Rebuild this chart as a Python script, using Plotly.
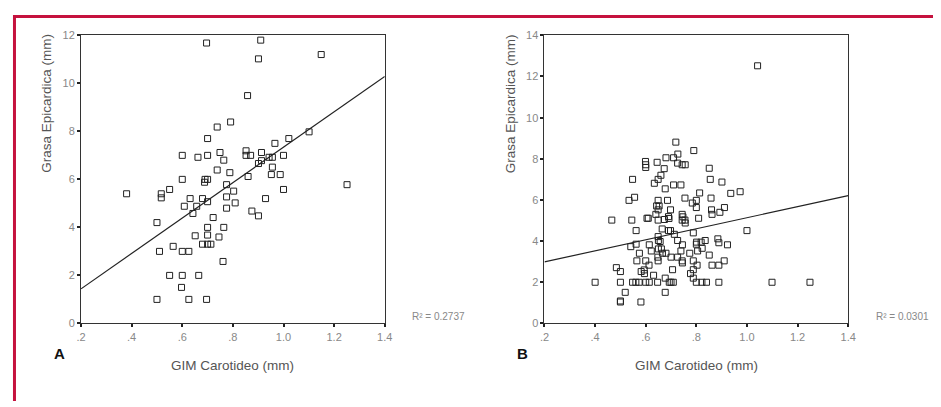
import plotly.graph_objects as go

# ---------------- data ----------------
# Panel A
a_x = [0.38, 0.50, 0.50, 0.51, 0.517, 0.517, 0.55, 0.55, 0.564, 0.60, 0.60, 0.60, 0.60, 0.597,
       0.608, 0.626, 0.626, 0.631, 0.642, 0.651, 0.657, 0.662, 0.665, 0.68, 0.68, 0.688, 0.69,
       0.696, 0.696, 0.70, 0.70, 0.70, 0.70, 0.70, 0.70, 0.70, 0.713, 0.722, 0.738, 0.738, 0.745,
       0.749, 0.761, 0.764, 0.764, 0.775, 0.775, 0.775, 0.788, 0.791, 0.803, 0.809, 0.852, 0.852,
       0.858, 0.86, 0.87, 0.875, 0.901, 0.901, 0.901, 0.91, 0.913, 0.913, 0.929, 0.943, 0.956,
       0.956, 0.952, 0.966, 0.987, 1.00, 1.00, 1.021, 1.101, 1.149, 1.251]
a_y = [5.4, 4.2, 1.0, 3.0, 5.4, 5.23, 5.58, 2.0, 3.21, 7.0, 6.0, 3.0, 2.0, 1.5,
       4.88, 3.0, 1.0, 5.2, 4.58, 3.65, 4.88, 6.92, 2.0, 5.2, 3.3, 5.88, 6.0,
       11.68, 1.0, 7.7, 7.0, 6.0, 5.07, 4.0, 3.68, 3.3, 3.3, 4.41, 8.18, 6.39, 3.6,
       7.12, 2.58, 4.0, 6.8, 5.78, 5.27, 4.8, 6.28, 8.39, 5.51, 5.02, 7.19, 7.0,
       9.49, 6.12, 7.0, 4.68, 11.02, 6.66, 4.48, 11.8, 7.12, 6.78, 5.2, 6.92, 6.92,
       6.51, 6.2, 7.5, 6.2, 7.0, 5.58, 7.7, 7.98, 11.2, 5.78]
fit_x = [0.2, 1.4]
a_fit_y = [1.44, 10.29]
a_r2 = "R² = 0.2737"

# Panel B
b_x = [0.40, 0.466, 0.484, 0.50, 0.50, 0.50, 0.50, 0.519, 0.534, 0.541, 0.545, 0.548, 0.548,
       0.556, 0.561, 0.562, 0.562, 0.565, 0.574, 0.575, 0.581, 0.582, 0.594, 0.595, 0.599, 0.60,
       0.60, 0.60, 0.60, 0.605, 0.61, 0.613, 0.614, 0.614, 0.622, 0.631, 0.634, 0.64, 0.643,
       0.645, 0.647, 0.649, 0.648, 0.649, 0.649, 0.649, 0.649, 0.649, 0.65, 0.65, 0.653, 0.657,
       0.66, 0.662, 0.665, 0.666, 0.673, 0.674, 0.677, 0.677, 0.677, 0.68, 0.68, 0.686, 0.69,
       0.69, 0.692, 0.693, 0.698, 0.698, 0.70, 0.70, 0.706, 0.709, 0.71, 0.71, 0.713, 0.719,
       0.726, 0.727, 0.726, 0.726, 0.739, 0.739, 0.744, 0.744, 0.744, 0.744, 0.745, 0.745,
       0.747, 0.756, 0.755, 0.755, 0.756, 0.774, 0.777, 0.784, 0.79, 0.788, 0.788, 0.788,
       0.788, 0.80, 0.80, 0.80, 0.80, 0.801, 0.803, 0.805, 0.809, 0.813, 0.819, 0.822, 0.823,
       0.835, 0.84, 0.851, 0.851, 0.855, 0.858, 0.86, 0.862, 0.862, 0.885, 0.889, 0.889, 0.889,
       0.893, 0.901, 0.91, 0.911, 0.923, 0.936, 0.973, 1.00, 1.042, 1.099, 1.249]
b_y = [2.0, 5.02, 2.71, 2.52, 2.0, 1.09, 1.04, 1.51, 5.98, 3.73, 5.02, 7.0, 2.0,
       6.13, 2.0, 4.51, 3.85, 3.04, 2.0, 3.41, 1.04, 2.52, 2.6, 2.42, 7.87, 7.71,
       7.58, 3.04, 2.0, 5.11, 5.11, 2.83, 2.0, 3.82, 3.52, 2.34, 6.81, 5.3, 5.71,
       7.83, 2.0, 7.0, 3.22, 3.04, 5.98, 5.52, 5.02, 4.22, 4.03, 3.62, 5.71, 3.98,
       7.2, 3.62, 4.59, 3.41, 7.52, 5.05, 6.54, 2.2, 1.51, 8.05, 3.41, 5.98, 5.19,
       4.51, 5.1, 2.0, 4.51, 5.52, 3.22, 2.0, 2.61, 2.0, 8.05, 6.73, 4.33, 8.81,
       7.79, 8.23, 4.03, 3.22, 6.73, 3.52, 7.71, 5.3, 5.02, 3.04, 2.94, 3.82,
       5.18, 7.71, 6.09, 5.02, 4.88, 3.41, 2.42, 5.85, 8.4, 4.4, 3.04, 2.61,
       2.2, 5.98, 5.63, 3.85, 2.0, 3.95, 2.83, 3.52, 5.11, 6.34, 3.95, 2.0, 3.65,
       4.03, 2.0, 7.54, 3.32, 7.0, 6.09, 5.52, 5.3, 2.83, 4.11, 3.92, 2.83, 2.0,
       5.4, 6.87, 3.04, 5.63, 3.82, 6.32, 6.4, 4.51, 12.52, 2.0, 2.0]
b_fit_y = [2.99, 6.21]
b_r2 = "R² = 0.0301"

x_tickvals = [0.2, 0.4, 0.6, 0.8, 1.0, 1.2, 1.4]
x_ticktext = [".2", ".4", ".6", ".8", "1.0", "1.2", "1.4"]
a_yticks = [0, 2, 4, 6, 8, 10, 12]
b_yticks = [0, 2, 4, 6, 8, 10, 12, 14]
x_title = "GIM Carotideo (mm)"
y_title = "Grasa Epicardica (mm)"

# ---------------- figure ----------------
# The page body has an 8px default margin, so the figure is sized to fit
# the window and all positions are given in page pixels minus that margin.
OFF = 8
W, H = 941 - OFF, 407 - OFF
FONT = "Arial, 'Liberation Sans', sans-serif"


def px(x):
    return (x - OFF) / W


def py(y):
    return 1 - (y - OFF) / H


marker = dict(symbol="square-open", size=6, color="#222", line=dict(width=1, color="#222"))

fig = go.Figure()
fig.add_trace(go.Scatter(x=a_x, y=a_y, mode="markers", marker=marker, xaxis="x", yaxis="y",
                         hoverinfo="skip", cliponaxis=False))
fig.add_trace(go.Scatter(x=fit_x, y=a_fit_y, mode="lines", line=dict(color="#222", width=1.2),
                         xaxis="x", yaxis="y", hoverinfo="skip"))
fig.add_trace(go.Scatter(x=b_x, y=b_y, mode="markers", marker=marker, xaxis="x2", yaxis="y2",
                         hoverinfo="skip", cliponaxis=False))
fig.add_trace(go.Scatter(x=fit_x, y=b_fit_y, mode="lines", line=dict(color="#222", width=1.2),
                         xaxis="x2", yaxis="y2", hoverinfo="skip"))

ydom = [py(327), py(30)]
axis_common = dict(showgrid=False, zeroline=False, showline=True, mirror=True,
                   linecolor="#333", linewidth=1, ticks="outside", ticklen=3,
                   tickwidth=2, tickcolor="#222",
                   tickfont=dict(family=FONT, size=11, color="#888"))

fig.update_layout(
    width=W, height=H, margin=dict(l=0, r=0, t=0, b=0),
    paper_bgcolor="white", plot_bgcolor="white", showlegend=False,
    xaxis=dict(domain=[px(77), px(385)], range=[0.2, 1.4], tickvals=x_tickvals,
               ticktext=x_ticktext, anchor="y", **axis_common),
    yaxis=dict(domain=ydom, range=[0, 12], tickvals=a_yticks, anchor="x", **axis_common),
    xaxis2=dict(domain=[px(547), px(855)], range=[0.2, 1.4], tickvals=x_tickvals,
                ticktext=x_ticktext, anchor="y2", **axis_common),
    yaxis2=dict(domain=ydom, range=[0, 14], tickvals=b_yticks, anchor="x2", **axis_common),
)

ann = []
for off, r2, letter in [(0, a_r2, "A"), (470, b_r2, "B")]:
    ann.append(dict(x=px(off + 231), y=py(370), xref="paper", yref="paper", text=x_title,
                    showarrow=False, xanchor="center", yanchor="middle",
                    font=dict(family=FONT, size=13.5, color="#555")))
    ann.append(dict(x=px(off + 42), y=py(100), xref="paper", yref="paper", text=y_title,
                    showarrow=False, textangle=-90, xanchor="center", yanchor="middle",
                    font=dict(family=FONT, size=13.5, color="#555")))
    ann.append(dict(x=px(off + 411), y=py(320), xref="paper", yref="paper", text=r2,
                    showarrow=False, xanchor="left", yanchor="middle",
                    font=dict(family=FONT, size=10, color="#888")))
    ann.append(dict(x=px(off + 55), y=py(358), xref="paper", yref="paper",
                    text="<b>" + letter + "</b>",
                    showarrow=False, xanchor="center", yanchor="middle",
                    font=dict(family=FONT, size=15, color="#111")))
fig.update_layout(annotations=ann)

border = "#c5123e"
fig.update_layout(shapes=[
    dict(type="line", xref="paper", yref="paper", x0=px(8), x1=1, y0=py(10.5), y1=py(10.5),
         line=dict(color=border, width=3)),
    dict(type="line", xref="paper", yref="paper", x0=px(9.5), x1=px(9.5), y0=py(9), y1=0,
         line=dict(color=border, width=3)),
])

fig.write_html("out.html")
